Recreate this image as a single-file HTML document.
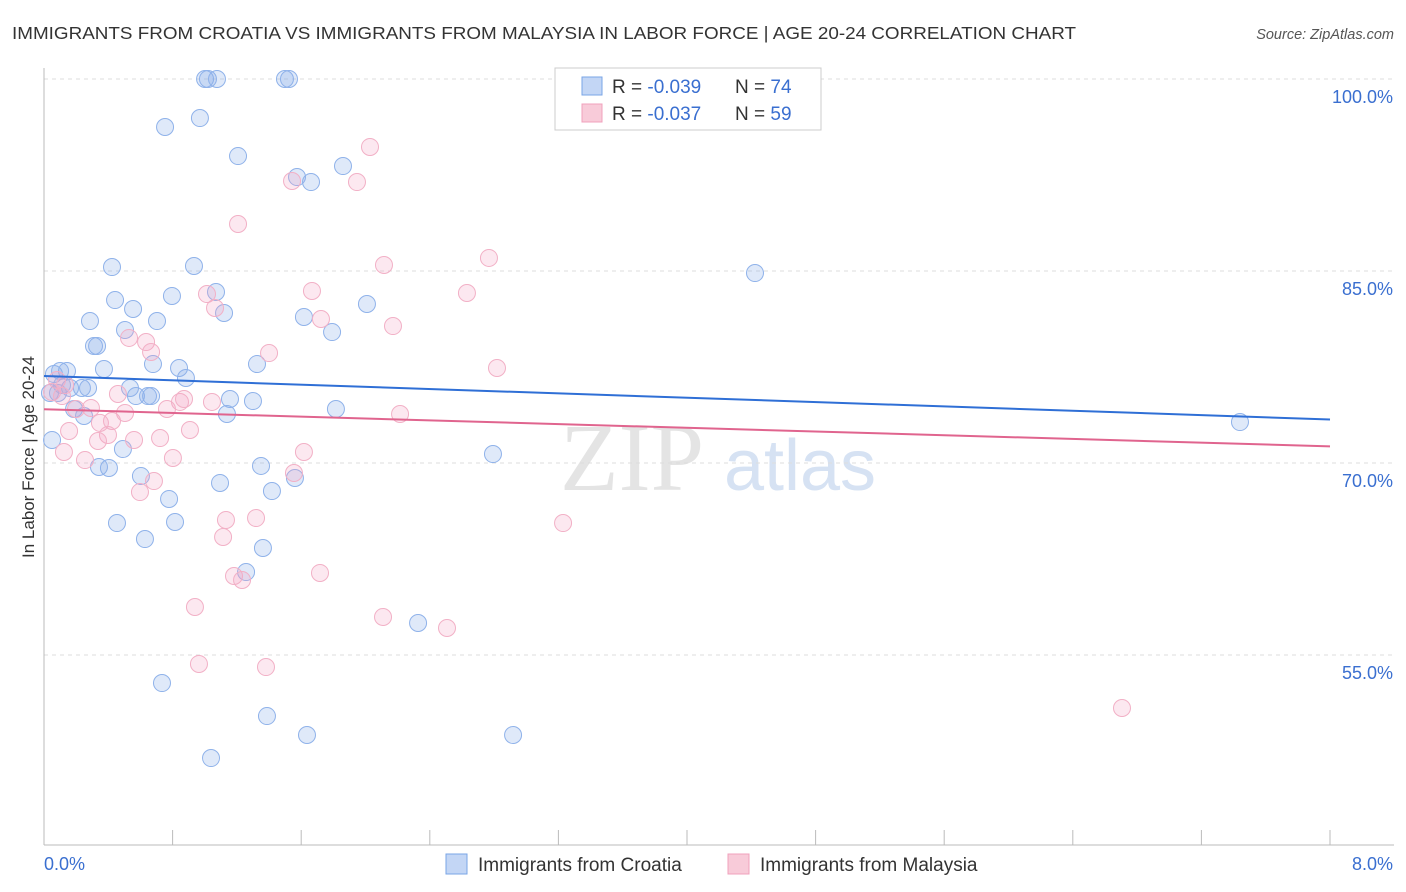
<!DOCTYPE html>
<html><head><meta charset="utf-8">
<style>
body{margin:0;background:#fff;font-family:"Liberation Sans",sans-serif;}
#wrap{position:relative;width:1406px;height:892px;overflow:hidden;}
</style></head>
<body>
<div id="wrap">
<svg id="chart" width="1406" height="892" xmlns="http://www.w3.org/2000/svg">
<text x="12" y="39" font-size="17.5" fill="#333" textLength="1064" lengthAdjust="spacingAndGlyphs">IMMIGRANTS FROM CROATIA VS IMMIGRANTS FROM MALAYSIA IN LABOR FORCE | AGE 20-24 CORRELATION CHART</text>
<text x="1394" y="39" font-size="14.5" fill="#555" font-style="italic" text-anchor="end">Source: ZipAtlas.com</text>
<text x="632" y="490" font-size="96" fill="#e4e4e4" font-family="Liberation Serif" text-anchor="middle">ZIP</text>
<text x="800" y="490" font-size="72" fill="#d6e2f3" text-anchor="middle">atlas</text>
<text transform="translate(34,457) rotate(-90)" font-size="17" fill="#333" text-anchor="middle">In Labor Force | Age 20-24</text>
<g id="grid"></g><g id="pts"></g><g id="lines"></g>
<g>
<rect x="555" y="68" width="266" height="62" fill="#fff" stroke="#ccc"/>
<rect x="582" y="77" width="20" height="18" fill="#c3d6f5" stroke="#7aa5e6"/>
<rect x="582" y="104" width="20" height="18" fill="#f8cbd9" stroke="#f0a0bc"/>
<text x="612" y="93" font-size="19" fill="#333">R = <tspan fill="#3a6fd0">-0.039</tspan></text>
<text x="735" y="93" font-size="19" fill="#333">N = <tspan fill="#3a6fd0">74</tspan></text>
<text x="612" y="120" font-size="19" fill="#333">R = <tspan fill="#3a6fd0">-0.037</tspan></text>
<text x="735" y="120" font-size="19" fill="#333">N = <tspan fill="#3a6fd0">59</tspan></text>
</g>
<g>
<rect x="446" y="854" width="21" height="20" fill="#c3d6f5" stroke="#7aa5e6"/>
<text x="478" y="871" font-size="19" fill="#333">Immigrants from Croatia</text>
<rect x="728" y="854" width="21" height="20" fill="#f8cbd9" stroke="#f0a0bc"/>
<text x="760" y="871" font-size="19" fill="#333">Immigrants from Malaysia</text>
</g>
</svg>
</div>
<script>
const yTicks=[100,85,70,55];
const xTickLabels=["0.0%","8.0%"];
const croatiaPx=[[205,79],[208,79],[217,79],[285,79],[289,79],[165,127],[200,118],[238,156],[297,177],[311,182],[343,166],[112,267],[194,266],[755,273],[115,300],[133,309],[172,296],[216,292],[224,313],[90,321],[157,321],[304,317],[332,332],[367,304],[125,330],[94,346],[97,346],[104,369],[153,364],[179,368],[186,378],[257,364],[60,371],[67,371],[54,374],[130,388],[82,388],[88,388],[70,388],[62,385],[50,393],[58,393],[136,396],[148,396],[151,396],[230,399],[253,401],[336,409],[74,409],[84,416],[227,414],[1240,422],[52,440],[123,449],[493,454],[99,467],[109,468],[141,476],[261,466],[220,483],[272,491],[295,478],[169,499],[117,523],[175,522],[145,539],[263,548],[246,572],[418,623],[162,683],[267,716],[307,735],[513,735],[211,758]];
const malaysiaPx=[[370,147],[292,181],[357,182],[238,224],[384,265],[489,258],[312,291],[467,293],[207,294],[215,308],[321,319],[393,326],[129,338],[146,342],[151,352],[269,353],[497,368],[57,380],[65,385],[52,392],[118,394],[62,396],[180,402],[184,399],[212,402],[167,409],[91,408],[76,409],[125,413],[400,414],[100,423],[112,421],[69,431],[190,430],[108,435],[160,438],[98,441],[134,440],[64,452],[173,458],[85,460],[304,452],[294,473],[154,481],[140,492],[226,520],[256,518],[563,523],[223,537],[234,576],[242,580],[320,573],[195,607],[383,617],[447,628],[199,664],[266,667],[1122,708]];
const croatiaX=croatiaPx.map(p=>+((p[0]-44)/160.75).toFixed(3));
const croatiaY=croatiaPx.map(p=>+(100-(p[1]-79)/12.8).toFixed(2));
const malaysiaX=malaysiaPx.map(p=>+((p[0]-44)/160.75).toFixed(3));
const malaysiaY=malaysiaPx.map(p=>+(100-(p[1]-79)/12.8).toFixed(2));
const croatiaTrend=[76.8,73.4];
const malaysiaTrend=[74.2,71.3];

const sx=v=>44+v*160.75, sy=v=>79+(100-v)*12.8;
const NS="http://www.w3.org/2000/svg";
function mk(t,a,parent){const e=document.createElementNS(NS,t);for(const k in a)e.setAttribute(k,a[k]);parent.appendChild(e);return e;}
const grid=document.getElementById('grid');
yTicks.forEach(t=>{
 const l=mk('line',{x1:44,x2:1394,y1:sy(t),y2:sy(t),stroke:'#ddd','stroke-dasharray':'4,4'},grid);
 
 
 const tx=mk('text',{x:1393,y:sy(t)+24,'font-size':18,fill:'#3a6fd0','text-anchor':'end'},grid);
 tx.textContent=t.toFixed(1)+'%';
 
 
});
const ax=mk('line',{x1:44,x2:44,y1:68,y2:845,stroke:'#bbb'},grid);


const bx=mk('line',{x1:44,x2:1394,y1:845,y2:845,stroke:'#bbb'},grid);


for(let i=0;i<=10;i++){const x=sx(i*0.8);
 const t=mk('line',{x1:x,x2:x,y1:830,y2:845,stroke:'#bbb'},grid);
 
 }
[[0,'start'],[8,'end']].forEach((d,i)=>{
 const t=mk('text',{x:i?1393:44,y:870,'font-size':18,fill:'#3a6fd0','text-anchor':d[1]},grid);
 t.textContent=xTickLabels[i];
 
 });
const pts=document.getElementById('pts');
function series(xs,ys,fill,stroke,name){xs.forEach((x,i)=>{
 const c=mk('circle',{cx:sx(x),cy:sy(ys[i]),r:8.5,fill:fill,stroke:stroke,'stroke-width':1},pts);
 
 });}
series(croatiaX,croatiaY,'rgba(140,175,235,0.28)','#8fb2ea','point-croatia');
series(malaysiaX,malaysiaY,'rgba(245,165,195,0.25)','#f2b0c6','point-malaysia');
const lines=document.getElementById('lines');
const l1=mk('line',{x1:sx(0),x2:sx(8),y1:sy(croatiaTrend[0]),y2:sy(croatiaTrend[1]),stroke:'#2f6fd6','stroke-width':2},lines);


const l2=mk('line',{x1:sx(0),x2:sx(8),y1:sy(malaysiaTrend[0]),y2:sy(malaysiaTrend[1]),stroke:'#e0648e','stroke-width':2},lines);


</script>
</body></html>
